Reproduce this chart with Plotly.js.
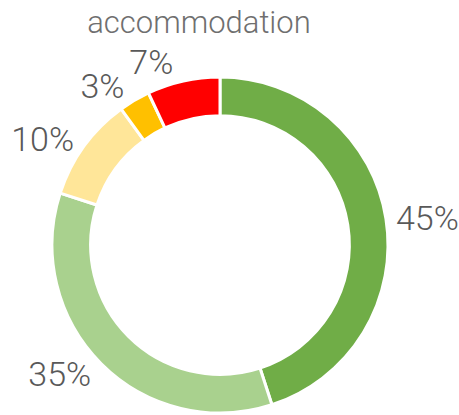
<!DOCTYPE html>
<html>
<head>
<meta charset="utf-8">
<script src="https://cdn.plot.ly/plotly-3.0.1.min.js"></script>
<style>html,body{margin:0;padding:0;background:#fff;}#chart{width:459px;height:415px;}</style>
</head>
<body>
<div id="chart"></div>
<script>
var categories = ["Very good", "Good", "Fair", "Poor", "Very poor"];
var values = [45, 35, 10, 3, 7];
var colors = ["#70AD47", "#A9D18E", "#FFE699", "#FFC000", "#FF0000"];
var chartTitle = "accommodation";

// Labels split over two identical-geometry pie traces so that Plotly's
// label-collision logic doesn't push the "7%" label away from its slice.
var secondLayerIndex = [4];
var textA = values.map(function (v, i) { return secondLayerIndex.indexOf(i) < 0 ? v + "%" : ""; });
var textB = values.map(function (v, i) { return secondLayerIndex.indexOf(i) >= 0 ? v + "%" : ""; });

var labelFont = {family: "Roboto, 'DejaVu Sans', sans-serif", size: 34, color: "#595959", weight: 300};

var common = {
  type: "pie",
  labels: categories,
  values: values,
  textinfo: "text",
  textposition: "outside",
  hole: 0.77,
  sort: false,
  direction: "clockwise",
  rotation: 0,
  textfont: labelFont,
  outsidetextfont: labelFont,
  showlegend: false,
  hoverinfo: "none"
};

var traceA = Object.assign({}, common, {
  text: textA,
  marker: {colors: colors, line: {color: "#ffffff", width: 3}}
});
var traceB = Object.assign({}, common, {
  text: textB,
  marker: {colors: colors.map(function () { return "rgba(0,0,0,0)"; }), line: {color: "rgba(0,0,0,0)", width: 0}}
});

var layout = {
  width: 459, height: 415,
  margin: {l: 52, r: 71, t: 77, b: 2},
  paper_bgcolor: "#ffffff",
  title: {
    text: chartTitle,
    font: {family: "Roboto, 'DejaVu Sans', sans-serif", size: 31, color: "#6f6f6f", weight: 300},
    x: 199/459, xanchor: "center", xref: "container",
    y: 1 - 22/415, yanchor: "middle", yref: "container"
  },
  showlegend: false
};

Plotly.newPlot("chart", [traceA, traceB], layout, {displayModeBar: false, staticPlot: true});
</script>
</body>
</html>
